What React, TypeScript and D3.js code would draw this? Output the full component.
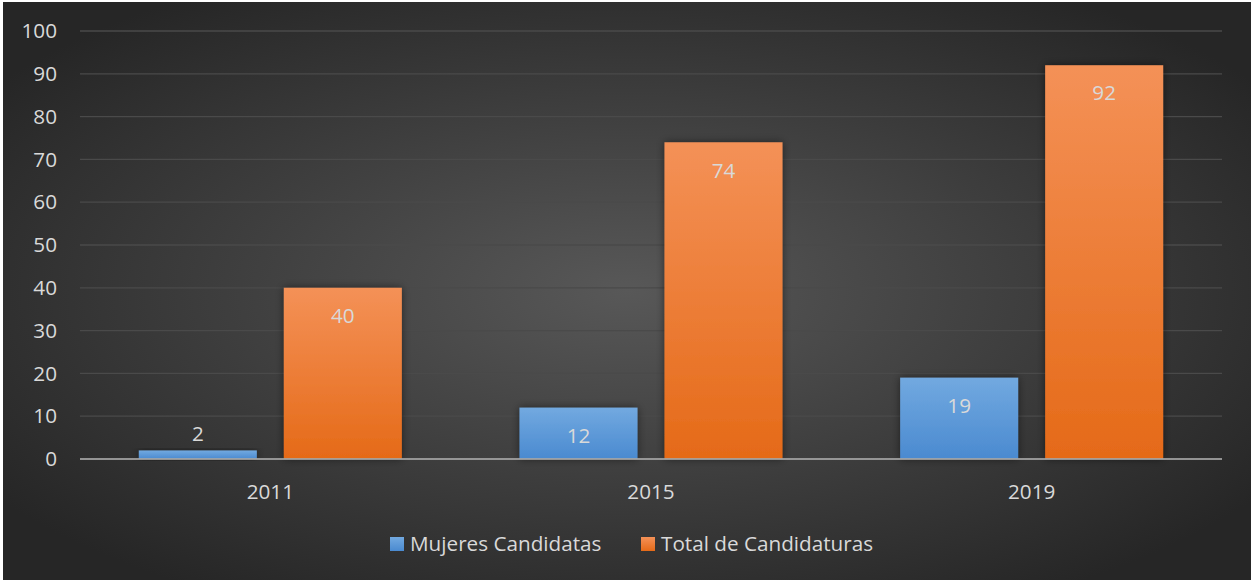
import React from "react";
import * as d3 from "d3";

const years = ["2011", "2015", "2019"];
const mujeres = [2, 12, 19];
const total = [40, 74, 92];
const seriesNames = ["Mujeres Candidatas", "Total de Candidaturas"];
const yTicks = [0, 10, 20, 30, 40, 50, 60, 70, 80, 90, 100];

const W = 1251;
const H = 580;
const font = "'Open Sans', sans-serif";
const fs = 20.7;

export default function App() {
  const x = d3.scaleBand<string>().domain(years).range([80, 1222]).paddingInner(0).paddingOuter(0);
  const y = d3.scaleLinear().domain([0, 100]).range([459, 31]);
  const bw = 118;
  const gap = 27;
  const series = [mujeres, total];
  const grads = ["gBlue", "gOrange"];
  return (
    <div style={{ position: "absolute", left: 0, top: 0 }}>
      <svg width={W} height={H} style={{ display: "block" }}>
        <defs>
          <radialGradient id="bg" cx="50%" cy="50%" r="62%">
            <stop offset="0%" stopColor="#585858" />
            <stop offset="100%" stopColor="#262626" />
          </radialGradient>
          <linearGradient id="gBlue" x1="0" y1="0" x2="0" y2="1">
            <stop offset="0%" stopColor="#72a9e0" />
            <stop offset="100%" stopColor="#4a8ad0" />
          </linearGradient>
          <linearGradient id="gOrange" x1="0" y1="0" x2="0" y2="1">
            <stop offset="0%" stopColor="#f49157" />
            <stop offset="100%" stopColor="#e56a18" />
          </linearGradient>
          <filter id="shadow" x="-20%" y="-20%" width="140%" height="140%">
            <feGaussianBlur in="SourceAlpha" stdDeviation="4" />
            <feOffset dx="0" dy="0" result="b" />
            <feComponentTransfer>
              <feFuncA type="linear" slope="0.5" />
            </feComponentTransfer>
            <feMerge>
              <feMergeNode />
              <feMergeNode in="SourceGraphic" />
            </feMerge>
          </filter>
        </defs>
        <rect x={0} y={0} width={W} height={H} fill="#ffffff" />
        <rect x={3} y={2} width={W - 3} height={H - 2} fill="url(#bg)" />
        {yTicks.map((t) =>
          t === 0 ? null : (
            <line key={t} x1={80} x2={1222} y1={y(t)} y2={y(t)} stroke="#4a4a4a" strokeWidth={1.3} />
          )
        )}
        {yTicks.map((t) => (
          <text key={"l" + t} x={57} y={y(t)} dy="0.35em" textAnchor="end" fill="#d9d9d9" fontSize={fs} fontFamily={font}>
            {t}
          </text>
        ))}
        {years.map((yr, i) => {
          const cx = (x(yr) as number) + x.bandwidth() / 2;
          return (
            <g key={yr}>
              {series.map((s, k) => {
                const x0 = k === 0 ? cx - gap / 2 - bw : cx + gap / 2;
                const top = y(s[i]);
                const h = y(0) - top;
                const inside = h > 40;
                return (
                  <g key={k}>
                    <rect x={x0} y={top} width={bw} height={h} fill={`url(#${grads[k]})`} filter="url(#shadow)" />
                    <text
                      x={x0 + bw / 2}
                      y={inside ? top + 28 : top - 17}
                      dy="0.35em"
                      textAnchor="middle"
                      fill="#d9d9d9"
                      fontSize={fs}
                      fontFamily={font}
                    >
                      {s[i]}
                    </text>
                  </g>
                );
              })}
              <text x={cx} y={492} dy="0.35em" textAnchor="middle" fill="#d9d9d9" fontSize={fs} fontFamily={font}>
                {yr}
              </text>
            </g>
          );
        })}
        <line x1={80} x2={1222} y1={y(0)} y2={y(0)} stroke="#a6a6a6" strokeOpacity={0.85} strokeWidth={2} />
        {seriesNames.map((n, k) => {
          const lx = k === 0 ? 390 : 641;
          return (
            <g key={n}>
              <rect x={lx} y={537} width={14} height={14} fill={`url(#${grads[k]})`} />
              <text x={lx + 20} y={544} dy="0.35em" fill="#d9d9d9" fontSize={fs} fontFamily={font}>
                {n}
              </text>
            </g>
          );
        })}
      </svg>
    </div>
  );
}
